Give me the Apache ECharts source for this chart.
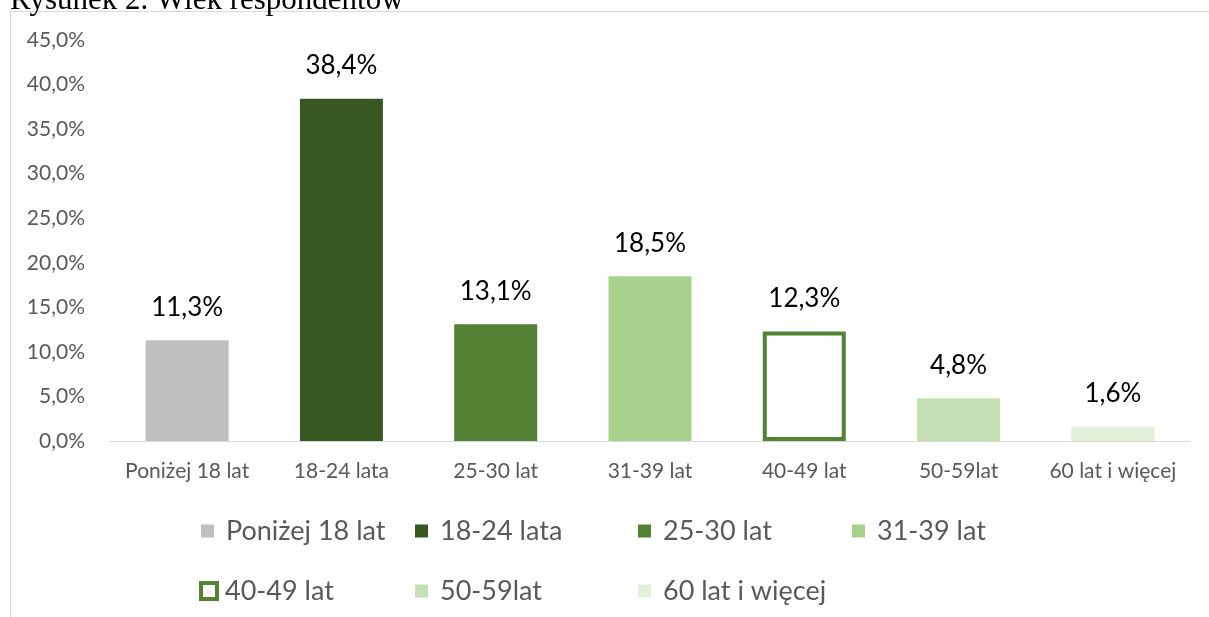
<!DOCTYPE html>
<html>
<head>
<meta charset="utf-8">
<script src="https://cdn.jsdelivr.net/npm/echarts@6/dist/echarts.min.js"></script>
<style>
html,body{margin:0;padding:0;background:#fff;}
#c{width:1209px;height:617px;}
</style>
</head>
<body>
<div id="c"></div>
<script>
var categories = ['Poniżej 18 lat', '18-24 lata', '25-30 lat', '31-39 lat', '40-49 lat', '50-59lat', '60 lat i więcej'];
var values = [11.3, 38.4, 13.1, 18.5, 12.3, 4.8, 1.6];
var colors = ['#BFBFBF', '#385723', '#548235', '#A9D18E', '#FFFFFF', '#C5E0B4', '#E2F0D9'];
var yTicks = [0, 5, 10, 15, 20, 25, 30, 35, 40, 45];
var titleText = 'Rysunek 2. Wiek respondentów';

var FONT = 'Lato, "Open Sans", sans-serif';
var hollow = 4;
var hollowStyle = { color: '#FFFFFF', borderColor: '#548235', borderWidth: 4 };

var barData = values.map(function (v, i) {
  return { value: v, itemStyle: i === hollow ? hollowStyle : { color: colors[i] } };
});

var series = [{
  type: 'bar',
  name: '__main',
  stack: 'all',
  data: barData,
  barWidth: 83,
  label: {
    show: true,
    position: 'top',
    distance: 20,
    color: '#000000',
    fontFamily: FONT,
    fontSize: 26,
    formatter: function (p) { return p.value.toFixed(1).replace('.', ',') + '%'; }
  },
  silent: true
}];
categories.forEach(function (c, i) {
  series.push({ type: 'bar', name: c, stack: 'all', data: [], itemStyle: i === hollow ? hollowStyle : { color: colors[i] } });
});

// legend placement: [marker left, item center y]
var legPos = [
  [201, 531], [415, 531], [638, 531], [852, 531],
  [197, 591], [415, 591], [638, 591]
];
var legends = categories.map(function (c, i) {
  var isH = i === hollow;
  return {
    show: true,
    padding: 0,
    left: legPos[i][0] + (isH ? 2 : 0),
    top: legPos[i][1] - 14,
    itemWidth: isH ? 16 : 13,
    itemHeight: isH ? 16 : 13,
    icon: 'rect',
    selectedMode: false,
    data: [isH ? { name: c, itemStyle: hollowStyle } : { name: c }],
    textStyle: { fontFamily: FONT, fontSize: 27, lineHeight: 28, color: '#595959', padding: [0, 0, 0, isH ? 3 : 7] }
  };
});

var chart = echarts.init(document.getElementById('c'));
chart.setOption({
  animation: false,
  backgroundColor: '#ffffff',
  graphic: [
    {
      type: 'rect',
      shape: { x: 10.5, y: 11.5, width: 1205, height: 700 },
      style: { fill: 'none', stroke: '#D9D9D9', lineWidth: 1 },
      silent: true, z: -1
    },
    {
      type: 'text',
      x: 10, y: 16,
      style: {
        text: titleText,
        font: '31px "Liberation Serif", "Times New Roman", serif',
        fill: '#000000',
        verticalAlign: 'bottom',
        align: 'left'
      },
      silent: true
    }
  ],
  legend: legends,
  grid: { left: 110, right: 19, top: 40, bottom: 176 },
  xAxis: {
    type: 'category',
    data: categories,
    axisLine: { show: true, lineStyle: { color: '#D9D9D9', width: 1 } },
    axisTick: { show: false },
    axisLabel: { fontFamily: FONT, fontSize: 21, color: '#595959', margin: 20, interval: 0 }
  },
  yAxis: {
    type: 'value',
    min: yTicks[0],
    max: yTicks[yTicks.length - 1],
    interval: yTicks[1] - yTicks[0],
    axisLine: { show: false },
    axisTick: { show: false },
    splitLine: { show: false },
    axisLabel: {
      fontFamily: FONT, fontSize: 21, color: '#595959', margin: 25,
      formatter: function (v) { return v.toFixed(1).replace('.', ',') + '%'; }
    }
  },
  series: series
});
</script>
</body>
</html>
